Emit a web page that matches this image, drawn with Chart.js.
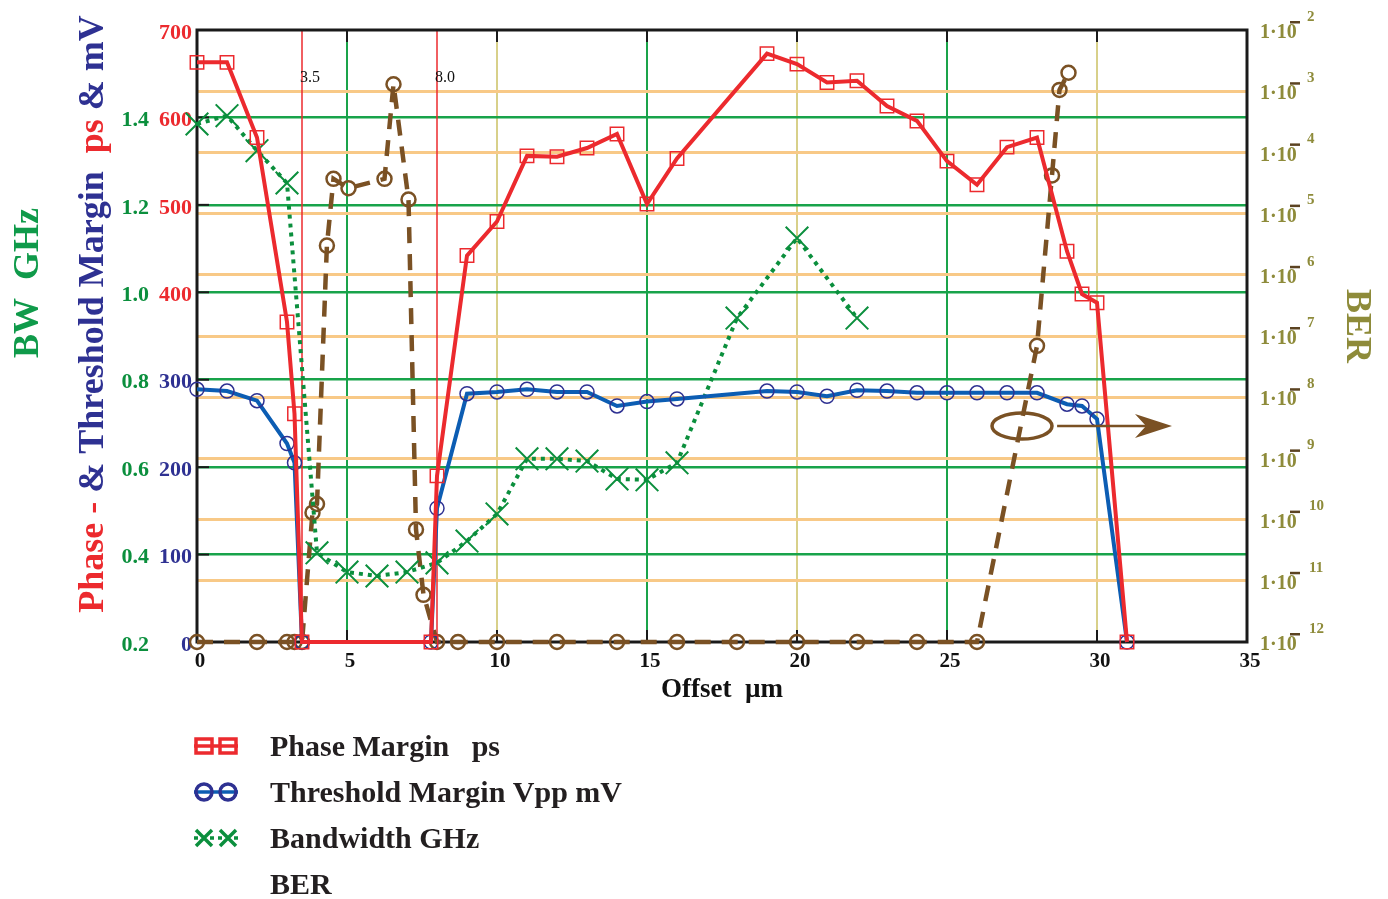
<!DOCTYPE html>
<html>
<head>
<meta charset="utf-8">
<script src="https://cdn.jsdelivr.net/npm/chart.js@4.4.1/dist/chart.umd.min.js"></script>
<style>
  html, body { margin: 0; padding: 0; background: #fff; }
  canvas { display: block; }
</style>
</head>
<body>
<canvas id="offsetChart" width="1388" height="899"></canvas>
<script>
// offset sweep (um) -> phase margin, threshold margin, bandwidth, BER
let phaseX = [0, 1, 2, 3, 3.25, 3.5, 7.8, 8, 9, 10, 11, 12, 13, 14, 15, 16, 19, 20, 21, 22, 23, 24, 25, 26, 27, 28, 29, 29.5, 30, 31];
let phasePs = [663, 663, 577, 366, 261, 0, 0, 190, 442, 481, 556, 555, 565, 581, 501, 553, 673, 661, 640, 642, 613, 596, 550, 523, 566, 577, 447, 398, 388, 0];

let thrX = [0, 1, 2, 3, 3.25, 3.5, 7.8, 8, 9, 10, 11, 12, 13, 14, 15, 16, 19, 20, 21, 22, 23, 24, 25, 26, 27, 28, 29, 29.5, 30, 31];
let thrMv = [289, 287, 276, 227, 205, 0, 0, 153, 284, 286, 289, 286, 286, 270, 275, 278, 287, 286, 281, 288, 287, 285, 285, 285, 285, 285, 272, 270, 255, 0];

let bwX = [0, 1, 2, 3, 4, 5, 6, 7, 8, 9, 10, 11, 12, 13, 14, 15, 16, 18, 20, 22];
let bwGHz = [1.385, 1.404, 1.324, 1.25, 0.404, 0.36, 0.351, 0.36, 0.381, 0.431, 0.493, 0.619, 0.619, 0.614, 0.573, 0.571, 0.61, 0.941, 1.124, 0.941];

let berX = [0, 2, 3, 3.25, 3.5, 3.85, 4, 4.33, 4.55, 5.05, 6.25, 6.55, 7.05, 7.3, 7.55, 8, 8.7, 10, 12, 14, 16, 18, 20, 22, 24, 26, 28, 28.5, 28.75, 29.05];
let ber = [1e-12, 1e-12, 1e-12, 1e-12, 1e-12, 1.3e-10, 1.8e-10, 3e-6, 3.7e-5, 2.6e-5, 3.7e-5, 1.3e-3, 1.7e-5, 6.9e-11, 5.9e-12, 1e-12, 1e-12, 1e-12, 1e-12, 1e-12, 1e-12, 1e-12, 1e-12, 1e-12, 1e-12, 1e-12, 6.9e-8, 4.2e-5, 1.05e-3, 2e-3];

let xTicks = [0, 5, 10, 15, 20, 25, 30, 35];
let marginTicks = [0, 100, 200, 300, 400, 500, 600, 700];
let bwTicks = [0.2, 0.4, 0.6, 0.8, 1.0, 1.2, 1.4];
let berExp = [-2, -3, -4, -5, -6, -7, -8, -9, -10, -11, -12];

let cutLines = [3.5, 8.0];

const RED = "#ec2a2e";
const NAVY = "#2e3192";
const BLUE = "#0c5db3";
const GREEN = "#0b8f3d";
const BROWN = "#7a5124";
const OLIVE = "#8e8b3a";
const SERIF = '"Liberation Serif", "Times New Roman", serif';

const pts = (xs, ys) => xs.map((x, i) => ({ x: x, y: ys[i] }));

const decorations = {
  id: "decorations",
  beforeDatasetsDraw(chart) {
    const { ctx, chartArea: a, scales } = chart;
    ctx.save();
    // red cut lines with their labels
    ctx.strokeStyle = RED;
    ctx.lineWidth = 1.5;
    ctx.fillStyle = "#111";
    ctx.font = "16px " + SERIF;
    ctx.textAlign = "center";
    ctx.textBaseline = "middle";
    cutLines.forEach(v => {
      const px = scales.x.getPixelForValue(v);
      ctx.beginPath();
      ctx.moveTo(px, a.top);
      ctx.lineTo(px, a.bottom);
      ctx.stroke();
      ctx.fillText(v.toFixed(1), px + 8, a.top + 48);
    });
    // inner tick marks
    ctx.strokeStyle = "#1a1a1a";
    ctx.lineWidth = 2;
    xTicks.slice(1, -1).forEach(v => {
      const px = scales.x.getPixelForValue(v);
      ctx.beginPath();
      ctx.moveTo(px, a.top); ctx.lineTo(px, a.top + 12);
      ctx.moveTo(px, a.bottom); ctx.lineTo(px, a.bottom - 12);
      ctx.stroke();
    });
    marginTicks.slice(1, -1).forEach(v => {
      const py = scales.y.getPixelForValue(v);
      ctx.beginPath();
      ctx.moveTo(a.left, py); ctx.lineTo(a.left + 12, py);
      ctx.stroke();
    });
    // frame
    ctx.lineWidth = 3;
    ctx.strokeRect(a.left, a.top, a.right - a.left, a.bottom - a.top);
    ctx.restore();
  },
  afterDatasetsDraw(chart) {
    const { ctx, scales } = chart;
    // ellipse + arrow pointing at BER axis
    const cx = scales.x.getPixelForValue(27.5);
    const cy = scales.y.getPixelForValue(247);
    ctx.save();
    ctx.strokeStyle = BROWN;
    ctx.fillStyle = BROWN;
    ctx.lineWidth = 3.5;
    ctx.beginPath();
    ctx.ellipse(cx, cy, 30, 13, 0, 0, Math.PI * 2);
    ctx.stroke();
    const x0 = scales.x.getPixelForValue(28.67);
    const tip = scales.x.getPixelForValue(32.5);
    ctx.lineWidth = 2.5;
    ctx.beginPath();
    ctx.moveTo(x0, cy);
    ctx.lineTo(tip - 20, cy);
    ctx.stroke();
    ctx.beginPath();
    ctx.moveTo(tip, cy);
    ctx.lineTo(tip - 37, cy - 12);
    ctx.lineTo(tip - 26, cy);
    ctx.lineTo(tip - 37, cy + 12);
    ctx.closePath();
    ctx.fill();
    ctx.restore();
  },
  afterDraw(chart) {
    const { ctx, chartArea: a, scales } = chart;
    ctx.save();

    // left multi-coloured title
    const parts = [["Phase - ", RED], ["& Threshold Margin  ", NAVY], ["ps ", RED], ["& mV", NAVY]];
    ctx.font = "bold 36px " + SERIF;
    ctx.textBaseline = "alphabetic";
    ctx.textAlign = "left";
    const total = parts.reduce((s, p) => s + ctx.measureText(p[0]).width, 0);
    ctx.save();
    ctx.translate(103, 314 + total / 2);
    ctx.rotate(-Math.PI / 2);
    let u = 0;
    parts.forEach(p => {
      ctx.fillStyle = p[1];
      ctx.fillText(p[0], u, 0);
      u += ctx.measureText(p[0]).width;
    });
    ctx.restore();

    ctx.save();
    ctx.translate(38, 283);
    ctx.rotate(-Math.PI / 2);
    ctx.textAlign = "center";
    ctx.fillStyle = "#0f9a4a";
    ctx.fillText("BW  GHz", 0, 0);
    ctx.restore();

    ctx.save();
    ctx.translate(1347, 326);
    ctx.rotate(Math.PI / 2);
    ctx.textAlign = "center";
    ctx.fillStyle = OLIVE;
    ctx.fillText("BER", 0, 0);
    ctx.restore();

    // BER tick labels 1·10^-n
    berExp.forEach(e => {
      const py = scales.yBER.getPixelForValue(Math.pow(10, e)) + 3;
      ctx.textAlign = "left";
      ctx.textBaseline = "middle";
      ctx.fillStyle = OLIVE;
      ctx.font = "bold 20px " + SERIF;
      ctx.fillText("1\u00b710", a.right + 13, py);
      ctx.fillStyle = "#5b4321";
      ctx.fillRect(a.right + 43, py - 12, 10, 2.5);
      ctx.fillStyle = OLIVE;
      ctx.font = "bold 15px " + SERIF;
      ctx.fillText(String(-e), a.right + (e <= -10 ? 62 : 60), py - 16);
    });

    // legend
    const rows = [
      { text: "Phase Margin   ps", color: RED, mark: "rect", line: [] },
      { text: "Threshold Margin Vpp mV", color: NAVY, mark: "circle", line: [] },
      { text: "Bandwidth GHz", color: GREEN, mark: "cross", line: [4, 4] },
      { text: "BER", color: BROWN, mark: null, line: [] }
    ];
    rows.forEach((r, i) => {
      const y = 746 + i * 46;
      if (r.mark) {
        ctx.strokeStyle = r.mark === "circle" ? BLUE : r.color;
        ctx.lineWidth = 3.5;
        ctx.setLineDash(r.line);
        ctx.beginPath();
        ctx.moveTo(194, y);
        ctx.lineTo(238, y);
        ctx.stroke();
        ctx.setLineDash([]);
        ctx.strokeStyle = r.color;
        [204, 228].forEach(mx => {
          ctx.beginPath();
          if (r.mark === "rect") {
            ctx.rect(mx - 8, y - 7, 16, 14);
          } else if (r.mark === "circle") {
            ctx.arc(mx, y, 8, 0, Math.PI * 2);
          } else {
            ctx.moveTo(mx - 8, y - 8); ctx.lineTo(mx + 8, y + 8);
            ctx.moveTo(mx + 8, y - 8); ctx.lineTo(mx - 8, y + 8);
          }
          ctx.stroke();
        });
      }
      ctx.fillStyle = "#231f20";
      ctx.font = "bold 30px " + SERIF;
      ctx.textAlign = "left";
      ctx.textBaseline = "middle";
      ctx.fillText(r.text, 270, y + 2);
    });
    ctx.restore();
  }
};

let ctx = document.getElementById("offsetChart").getContext("2d");

let offsetChart = new Chart(ctx, {
  type: "line",
  data: {
    datasets: [
      {
        label: "Phase Margin   ps",
        data: pts(phaseX, phasePs),
        yAxisID: "y",
        borderColor: RED,
        borderWidth: 4,
        pointStyle: "rect",
        pointRadius: 9.5,
        pointBorderColor: RED,
        pointBorderWidth: 1.5,
        pointBackgroundColor: "rgba(0,0,0,0)",
        clip: false
      },
      {
        label: "Threshold Margin Vpp mV",
        data: pts(thrX, thrMv),
        yAxisID: "y",
        borderColor: BLUE,
        borderWidth: 4,
        pointStyle: "circle",
        pointRadius: 7,
        pointBorderColor: NAVY,
        pointBorderWidth: 1.5,
        pointBackgroundColor: "rgba(0,0,0,0)",
        clip: false
      },
      {
        label: "Bandwidth GHz",
        data: pts(bwX, bwGHz),
        yAxisID: "yBW",
        borderColor: GREEN,
        borderWidth: 4,
        borderDash: [4, 5],
        pointStyle: "crossRot",
        pointRadius: 16,
        pointBorderColor: GREEN,
        pointBorderWidth: 2,
        clip: false
      },
      {
        label: "BER",
        data: pts(berX, ber),
        yAxisID: "yBER",
        borderColor: BROWN,
        borderWidth: 4.5,
        borderDash: [16, 11],
        pointStyle: "circle",
        pointRadius: 7,
        pointBorderColor: BROWN,
        pointBorderWidth: 2.5,
        pointBackgroundColor: "rgba(0,0,0,0)",
        clip: false
      }
    ]
  },
  options: {
    responsive: false,
    animation: false,
    devicePixelRatio: 1,
    layout: { padding: { left: 100, right: 0, top: 30, bottom: 193 } },
    plugins: {
      legend: { display: false },
      tooltip: { enabled: false }
    },
    scales: {
      x: {
        type: "linear",
        min: 0,
        max: 35,
        afterBuildTicks: s => { s.ticks = xTicks.map(v => ({ value: v })); },
        afterFit: s => { s.height = 64; },
        border: { display: false },
        grid: {
          drawTicks: false,
          lineWidth: 2,
          color: c => {
            const v = c.tick.value;
            if (v === 0 || v === 35) return "rgba(0,0,0,0)";
            return v % 10 === 5 ? "#1aa34a" : "#d8d08a";
          }
        },
        ticks: {
          color: "#111",
          padding: 7,
          labelOffset: 3,
          autoSkip: false,
          maxRotation: 0,
          font: { family: SERIF, size: 21, weight: "bold" }
        },
        title: {
          display: true,
          text: "Offset  \u00b5m",
          color: "#111",
          padding: 0,
          font: { family: SERIF, size: 27, weight: "bold" }
        }
      },
      y: {
        type: "linear",
        position: "left",
        weight: 0,
        min: 0,
        max: 700,
        afterBuildTicks: s => { s.ticks = marginTicks.map(v => ({ value: v })); },
        afterFit: s => { s.width = 45; },
        border: { display: false },
        grid: {
          drawTicks: false,
          lineWidth: 2.5,
          color: c => (c.tick.value > 0 && c.tick.value < 700) ? "#18a34a" : "rgba(0,0,0,0)"
        },
        ticks: {
          padding: 5,
          labelOffset: 3,
          color: c => c.tick.value >= 400 ? RED : NAVY,
          font: { family: SERIF, size: 22, weight: "bold" }
        }
      },
      yBW: {
        type: "linear",
        position: "left",
        weight: 1,
        min: 0.2,
        max: 1.6,
        afterBuildTicks: s => { s.ticks = bwTicks.map(v => ({ value: v })); },
        afterFit: s => { s.width = 52; },
        border: { display: false },
        grid: { display: false, drawTicks: false },
        ticks: {
          padding: 3,
          labelOffset: 3,
          color: GREEN,
          callback: v => v.toFixed(1),
          font: { family: SERIF, size: 22, weight: "bold" }
        }
      },
      yBER: {
        type: "logarithmic",
        position: "right",
        min: 1e-12,
        max: 1e-2,
        afterBuildTicks: s => { s.ticks = berExp.map(e => ({ value: Math.pow(10, e) })); },
        afterFit: s => { s.width = 141; },
        border: { display: false },
        grid: {
          drawTicks: false,
          lineWidth: 3,
          color: c => {
            const e = Math.round(Math.log10(c.tick.value));
            return (e > -12 && e < -2) ? "#f8c987" : "rgba(0,0,0,0)";
          }
        },
        ticks: { display: false }
      }
    }
  },
  plugins: [decorations]
});
</script>
</body>
</html>
